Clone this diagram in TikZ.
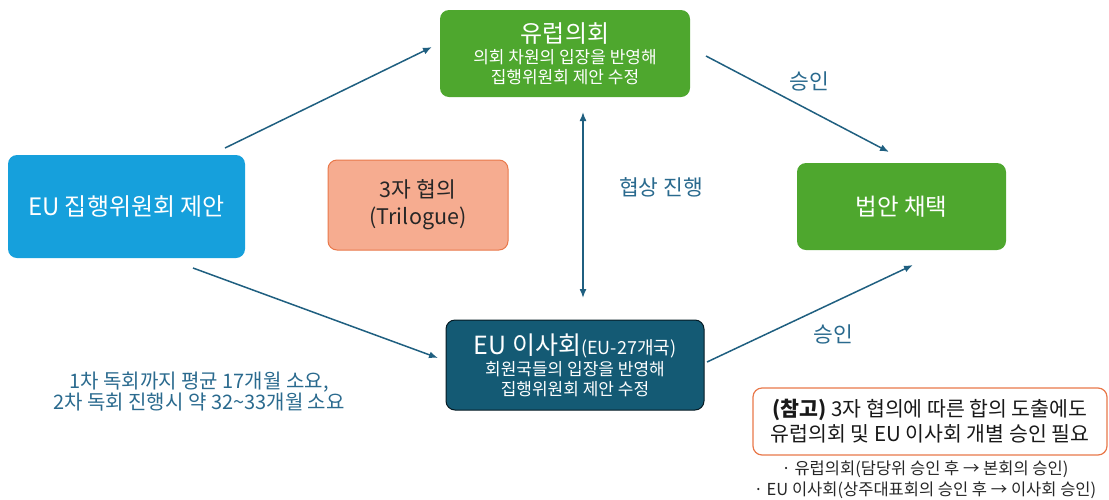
\documentclass[tikz,border=0pt]{standalone}
\usepackage{fontspec}
\setmainfont{Noto Sans CJK KR}
\usetikzlibrary{arrows.meta,calc}
\definecolor{cblue}{HTML}{16A0DC}
\definecolor{cgreen}{HTML}{4EA72E}
\definecolor{cteal}{HTML}{145A74}
\definecolor{csalmon}{HTML}{F6AC90}
\definecolor{corange}{HTML}{E9784A}
\definecolor{carrow}{HTML}{1F5F80}
\definecolor{ctext}{HTML}{2A6A8E}
\begin{document}
\begin{tikzpicture}[x=1pt,y=-1pt,
  box/.style={rounded corners=9pt, align=center, inner sep=0pt},
  conn/.style={draw=carrow, line width=1.5pt, -{Latex[length=9pt,width=7pt]}},
  lbl/.style={text=ctext, font=\fontsize{21.5}{24}\selectfont}
]
\useasboundingbox (0,0) rectangle (1109,499);
% boxes
\node[box, fill=cblue, minimum width=237pt, minimum height=103pt, text=white, font=\fontsize{24}{28}\selectfont] (com) at (126.5,206.5) {EU 집행위원회 제안};
\node[box, fill=cgreen, minimum width=250pt, minimum height=87pt, text=white, font=\fontsize{17}{20}\selectfont] (ep) at (565,53.5)
  {{\fontsize{24}{28}\selectfont 유럽의회}\\[1pt]의회 차원의 입장을 반영해\\집행위원회 제안 수정};
\node[box, fill=csalmon, draw=corange, line width=1pt, minimum width=180pt, minimum height=90pt, text=black!85, font=\fontsize{21.5}{27}\selectfont] (tri) at (418,205) {3자 협의\\(Trilogue)};
\node[box, fill=cgreen, minimum width=209pt, minimum height=87pt, text=white, font=\fontsize{23.5}{28}\selectfont] (adopt) at (901.5,206.5) {법안 채택};
\node[box, fill=cteal, draw=black!70!cteal, line width=1pt, minimum width=258pt, minimum height=90pt, text=white, font=\fontsize{17}{20}\selectfont] (cou) at (575,365)
  {{\fontsize{25}{28}\selectfont EU 이사회}{\fontsize{18}{20}\selectfont (EU-27개국)}\\[1pt]회원국들의 입장을 반영해\\집행위원회 제안 수정};
\node[box, fill=white, draw=corange, line width=1.2pt, minimum width=354pt, minimum height=67pt, font=\fontsize{20.5}{25}\selectfont, text=black!90] (note) at (930,421.5)
  {\textbf{(참고)} 3자 협의에 따른 합의 도출에도\\유럽의회 및 EU 이사회 개별 승인 필요};
\node[align=center, inner sep=0pt, font=\fontsize{16.5}{21}\selectfont, text=black!85] (bul) at (925,480)
  {· 유럽의회(담당위 승인 후 → 본회의 승인)\\· EU 이사회(상주대표회의 승인 후 → 이사회 승인)};
\node[align=center, inner sep=0pt, text=ctext, font=\fontsize{20}{21.5}\selectfont] (dur) at (199,391.5)
  {1차 독회까지 평균 17개월 소요,\\2차 독회 진행시 약 32\textasciitilde33개월 소요};
% labels
\node[lbl] (l1) at (809,81) {승인};
\node[lbl] (l2) at (833,334) {승인};
\node[lbl] (l3) at (661,187) {협상 진행};
% connector ends
\coordinate (a1s) at (225,148); \coordinate (a1e) at (432,47);
\coordinate (a2s) at (193,268); \coordinate (a2e) at (438,358);
\coordinate (a3s) at (706,56);  \coordinate (a3e) at (889,152);
\coordinate (a4s) at (707,362); \coordinate (a4e) at (913,265);
\coordinate (vs) at (583,112); \coordinate (ve) at (583,298);
\draw[conn] (a1s) -- (a1e);
\draw[conn] (a2s) -- (a2e);
\draw[conn] (a3s) -- (a3e);
\draw[conn] (a4s) -- (a4e);
\draw[draw=carrow, line width=1.5pt, {Latex[length=9pt,width=7pt]}-{Latex[length=9pt,width=7pt]}] (vs) -- (ve);
\end{tikzpicture}
\end{document}
